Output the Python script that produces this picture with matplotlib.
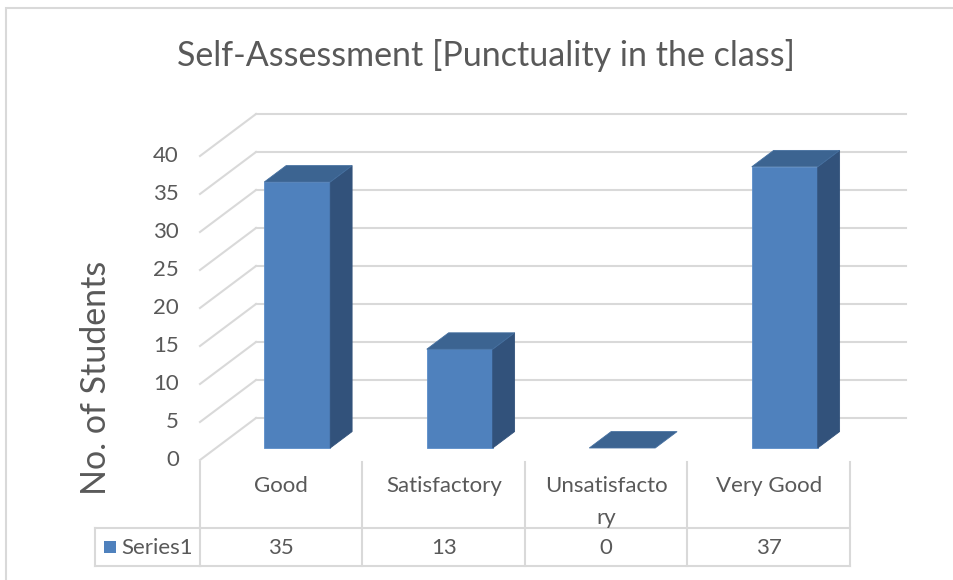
import numpy as np
import matplotlib.pyplot as plt
from matplotlib.patches import Polygon, Rectangle
from matplotlib.transforms import blended_transform_factory

# data
categories = ["Good", "Satisfactory", "Unsatisfactory", "Very Good"]
table_labels = ["Good", "Satisfactory", "Unsatisfacto\nry", "Very Good"]
values = [35, 13, 0, 37]
series_name = "Series1"
y_ticks = [0, 5, 10, 15, 20, 25, 30, 35, 40]
title = "Self-Assessment [Punctuality in the class]"
y_label = "No. of Students"

plt.rcParams['font.family'] = ['Lato', 'DejaVu Sans']

W, H = 954, 580
fig = plt.figure(figsize=(W / 100, H / 100), dpi=100)
fig.patch.set_facecolor("white")

def fx(px):
    return px / W

def fy(py):
    return 1 - py / H

text_col = "#595959"
grid_col = "#D9D9D9"
front_col = "#4F81BD"
side_col = "#32527B"
top_col = "#3C6491"

# chart border (only top/left edges fall inside the picture)
fig.add_artist(Rectangle((fx(6), fy(600)), fx(1000), (600 - 8) / H, transform=fig.transFigure,
                         fill=False, edgecolor=grid_col, lw=1.5))

# plot region in pixels: front-left x=200, back-right x=906, y from 114 to 460
cat_px = 162.5
unit_px = 7.6
x_left_px, x_right_px = 200, 906
y_top_px, y_bot_px = 114, 460
ax = fig.add_axes([fx(x_left_px), fy(y_bot_px), (x_right_px - x_left_px) / W, (y_bot_px - y_top_px) / H])
ax.set_xlim(-0.5, -0.5 + (x_right_px - x_left_px) / cat_px)
ax.set_ylim(0, (y_bot_px - y_top_px) / unit_px)
ax.axis("off")

DX = 56 / cat_px   # full floor depth, x
DY = 42 / unit_px  # full floor depth, y
n = len(categories)

# gridlines: side wall diagonals + back wall horizontals
for v in y_ticks:
    ax.plot([-0.5, -0.5 + DX], [v, v + DY], color=grid_col, lw=1.5, zorder=1, clip_on=False)
    ax.plot([-0.5 + DX, n - 0.5 + DX], [v + DY, v + DY], color=grid_col, lw=1.5, zorder=1, clip_on=False)
    ax.text(-0.5 - 0.13, v, str(v), ha="right", va="center", fontsize=16, color=text_col)

# 3D bars
f0 = 0.286   # depth fraction of bar front
fd = 0.39    # bar depth fraction
hw = 0.203
ddx, ddy = fd * DX, fd * DY
for i, v in enumerate(values):
    xl = i - hw + f0 * DX
    xr = i + hw + f0 * DX
    yb = f0 * DY
    yt = yb + v
    if v > 0:
        ax.add_patch(Polygon([(xl, yb), (xr, yb), (xr, yt), (xl, yt)], closed=True,
                             facecolor=front_col, edgecolor="#5B8DC9", lw=0.6, zorder=3))
        ax.add_patch(Polygon([(xr, yb), (xr + ddx, yb + ddy), (xr + ddx, yt + ddy), (xr, yt)], closed=True,
                             facecolor=side_col, edgecolor=side_col, lw=0.6, zorder=3))
    ax.add_patch(Polygon([(xl, yt), (xl + ddx, yt + ddy), (xr + ddx, yt + ddy), (xr, yt)], closed=True,
                         facecolor=top_col, edgecolor="#4570A0", lw=0.6, zorder=4))

# title and axis label
fig.text(fx(486), fy(55), title, ha="center", va="center", fontsize=24.5, color=text_col)
fig.text(fx(96), fy(378), y_label, ha="center", va="center", rotation=90, fontsize=24.5, color=text_col)

# data table under the plot
tr = blended_transform_factory(ax.transData, fig.transFigure)
row1_top, row1_bot, row2_bot = 460, 528, 566
for b in np.arange(n + 1) - 0.5:
    ax.plot([b, b], [fy(row1_top + 2), fy(row2_bot)], color=grid_col, lw=1.5, transform=tr, clip_on=False)
ax.plot([-0.5, n - 0.5], [fy(row1_bot), fy(row1_bot)], color=grid_col, lw=1.5, transform=tr, clip_on=False)
ax.plot([-0.5, n - 0.5], [fy(row2_bot), fy(row2_bot)], color=grid_col, lw=1.5, transform=tr, clip_on=False)
# header cell of the value row
fig.add_artist(plt.Line2D([fx(95), fx(200)], [fy(row1_bot), fy(row1_bot)], color=grid_col, lw=1.5))
fig.add_artist(plt.Line2D([fx(95), fx(200)], [fy(row2_bot), fy(row2_bot)], color=grid_col, lw=1.5))
fig.add_artist(plt.Line2D([fx(95), fx(95)], [fy(row1_bot), fy(row2_bot)], color=grid_col, lw=1.5))

for i, lab in enumerate(table_labels):
    for k, line in enumerate(lab.split("\n")):
        ax.text(i, fy(486 + 32 * k), line, ha="center", va="center", fontsize=16,
                color=text_col, transform=tr)
    ax.text(i, fy(548), str(values[i]), ha="center", va="center", fontsize=16,
            color=text_col, transform=tr)

fig.add_artist(Rectangle((fx(104), fy(553)), 12 / W, 12 / H, transform=fig.transFigure,
                         facecolor=front_col, edgecolor="none"))
fig.text(fx(121), fy(548), series_name, ha="left", va="center", fontsize=16, color=text_col)

fig.savefig("out.png", dpi=100, facecolor="white")
